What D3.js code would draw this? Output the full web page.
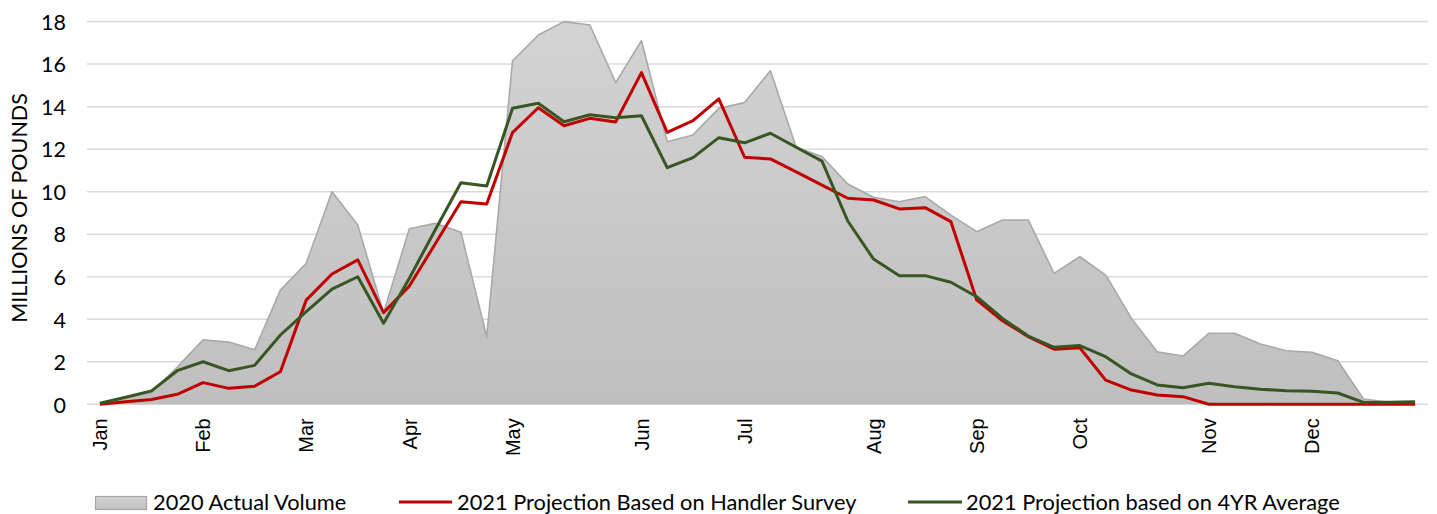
<!DOCTYPE html>
<html>
<head>
<meta charset="utf-8">
<script src="https://cdn.jsdelivr.net/npm/d3@7"></script>
<style>
  html, body { margin: 0; padding: 0; background: #ffffff; }
  svg { display: block; }
</style>
</head>
<body>
<svg id="chart" width="1437" height="514"></svg>
<script>
// ---- data (weekly, 52 weeks) ----
const weeks = d3.range(52);
const monthLabels = ["Jan","Feb","Mar","Apr","May","Jun","Jul","Aug","Sep","Oct","Nov","Dec"];
const monthWeekIndex = [0,4,8,12,16,21,25,30,34,38,43,47];
const yTicks = [0,2,4,6,8,10,12,14,16,18];

const actual2020 = [0.05,0.3,0.55,1.75,3.03,2.93,2.56,5.37,6.63,10.0,8.43,4.3,8.26,8.51,8.09,3.18,
  16.15,17.37,18.0,17.84,15.13,17.1,12.35,12.67,13.92,14.19,15.69,12.09,11.65,10.36,9.74,9.53,
  9.77,8.9,8.12,8.67,8.67,6.16,6.94,6.08,4.04,2.47,2.27,3.34,3.34,2.84,2.52,2.45,2.05,0.25,0.1,0.12];
const handlerSurvey2021 = [0,0.12,0.23,0.47,1.02,0.75,0.85,1.53,4.9,6.13,6.79,4.31,5.56,7.54,9.53,9.42,
  12.78,13.95,13.1,13.45,13.28,15.6,12.79,13.34,14.37,11.62,11.54,10.93,10.31,9.69,9.61,9.19,
  9.25,8.59,4.91,3.93,3.18,2.59,2.66,1.14,0.67,0.44,0.36,0,0,0,0,0,0,0,0,0];
const fourYrAvg2021 = [0.05,0.33,0.63,1.58,2.0,1.58,1.83,3.26,4.36,5.42,6.0,3.81,5.93,8.2,10.42,10.27,
  13.92,14.16,13.29,13.62,13.48,13.57,11.13,11.6,12.54,12.3,12.75,12.09,11.44,8.62,6.83,6.05,
  6.05,5.74,5.06,4.04,3.21,2.68,2.76,2.24,1.43,0.91,0.78,0.99,0.83,0.71,0.64,0.61,0.53,0.09,0.1,0.12];

const seriesNames = ["2020 Actual Volume","2021 Projection Based on Handler Survey","2021 Projection based on 4YR Average"];

// ---- layout ----
const svg = d3.select("#chart");
const plot = {left: 87, right: 1428, top: 21.6, bottom: 404.3};
const calibriLike = "Lato, 'Open Sans', sans-serif";

const x = d3.scaleBand().domain(weeks).range([plot.left, plot.right]).padding(0);
const xc = i => x(i) + x.bandwidth() / 2;
const y = d3.scaleLinear().domain([0, 18]).range([plot.bottom, plot.top]);

const defs = svg.append("defs");
const grad = defs.append("linearGradient").attr("id","areaGrad")
  .attr("gradientUnits","userSpaceOnUse")
  .attr("x1",0).attr("x2",0).attr("y1",y(18)).attr("y2",y(0));
grad.append("stop").attr("offset","0%").attr("stop-color","#d3d3d3");
grad.append("stop").attr("offset","100%").attr("stop-color","#bfbfbf");
const grad2 = defs.append("linearGradient").attr("id","swatchGrad")
  .attr("x1",0).attr("x2",0).attr("y1",0).attr("y2",1);
grad2.append("stop").attr("offset","0%").attr("stop-color","#d3d3d3");
grad2.append("stop").attr("offset","100%").attr("stop-color","#c2c2c2");

// gridlines
svg.append("g").selectAll("line").data(yTicks).join("line")
  .attr("x1", plot.left).attr("x2", plot.right)
  .attr("y1", d => y(d)).attr("y2", d => y(d))
  .attr("stroke", "#d9d9d9").attr("stroke-width", 1.5);

// y axis labels
const yAxis = d3.axisLeft(y).tickValues(yTicks).tickSize(0).tickPadding(0);
const yg = svg.append("g").attr("transform", "translate(66,0)").call(yAxis);
yg.select(".domain").remove();
yg.selectAll("text").attr("font-family", calibriLike).attr("font-size", 21.5)
  .attr("fill", "#000").attr("dy", "0.36em");

// y title
svg.append("text").attr("transform", "translate(27,208) rotate(-90)")
  .attr("text-anchor", "middle").attr("font-family", calibriLike).attr("font-size", 21.5)
  .attr("fill", "#000").text("MILLIONS OF POUNDS");

// area
const area = d3.area().x((d, i) => xc(i)).y0(y(0)).y1(d => y(d));
svg.append("path").datum(actual2020).attr("d", area).attr("fill", "url(#areaGrad)");
const areaLine = d3.line().x((d, i) => xc(i)).y(d => y(d));
svg.append("path").datum(actual2020).attr("d", areaLine).attr("fill", "none")
  .attr("stroke", "#a9a9a9").attr("stroke-width", 1.6).attr("stroke-linejoin", "round");

// lines
const line = d3.line().x((d, i) => xc(i)).y(d => y(d));
svg.append("path").datum(handlerSurvey2021).attr("d", line).attr("fill", "none")
  .attr("stroke", "#c00000").attr("stroke-width", 3).attr("stroke-linejoin", "round");
svg.append("path").datum(fourYrAvg2021).attr("d", line).attr("fill", "none")
  .attr("stroke", "#375623").attr("stroke-width", 3).attr("stroke-linejoin", "round");

// x axis labels
const xAxis = d3.axisBottom(x).tickValues(monthWeekIndex)
  .tickFormat(i => monthLabels[monthWeekIndex.indexOf(i)]).tickSize(0);
const xg = svg.append("g").attr("transform", `translate(0,${plot.bottom})`).call(xAxis);
xg.select(".domain").remove();
xg.selectAll("text")
  .attr("font-family", "'Liberation Sans', Arial, sans-serif").attr("font-size", 20)
  .attr("fill", "#000")
  .attr("transform", "rotate(-90)")
  .attr("text-anchor", "end")
  .attr("x", -14).attr("y", 0).attr("dy", "0.36em");

// legend
const lg = svg.append("g");
lg.append("rect").attr("x", 95.5).attr("y", 496.5).attr("width", 51).attr("height", 13)
  .attr("fill", "url(#swatchGrad)").attr("stroke", "#a6a6a6").attr("stroke-width", 1.2);
lg.append("text").attr("x", 153).attr("y", 510).text(seriesNames[0]);
lg.append("line").attr("x1", 399).attr("x2", 452).attr("y1", 502).attr("y2", 502)
  .attr("stroke", "#c00000").attr("stroke-width", 3);
lg.append("text").attr("x", 457).attr("y", 510).text(seriesNames[1]);
lg.append("line").attr("x1", 908).attr("x2", 962).attr("y1", 502).attr("y2", 502)
  .attr("stroke", "#375623").attr("stroke-width", 3);
lg.append("text").attr("x", 966).attr("y", 510).text(seriesNames[2]);
lg.selectAll("text").attr("font-family", calibriLike).attr("font-size", 21.8).attr("fill", "#000");
</script>
</body>
</html>
